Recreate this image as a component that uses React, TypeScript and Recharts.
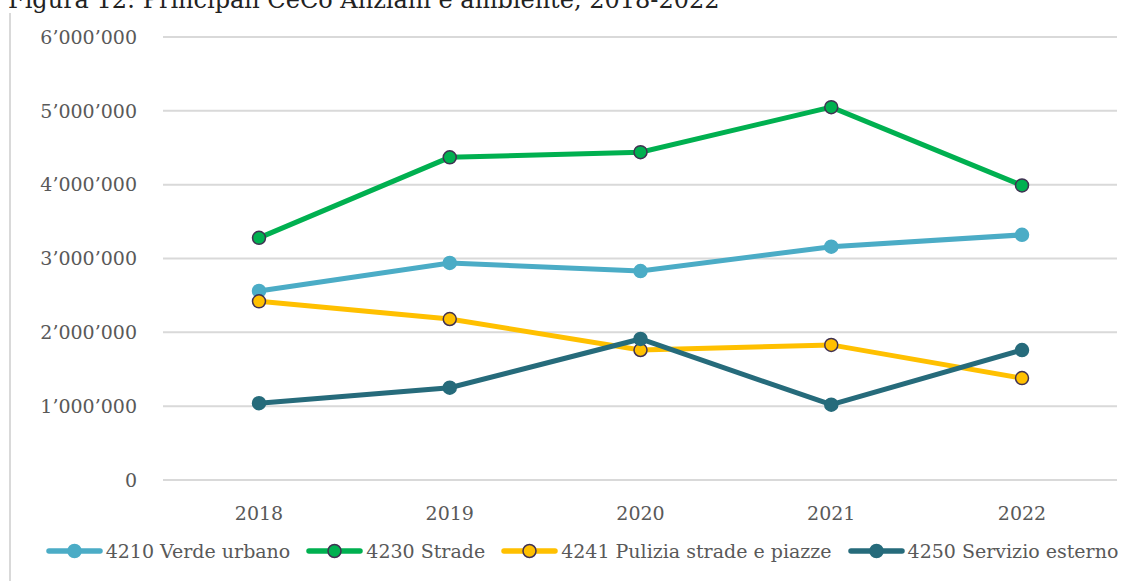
import { LineChart, Line, XAxis, YAxis, CartesianGrid } from 'recharts';

// Anni e valori (CHF)
const anni = ['2018', '2019', '2020', '2021', '2022'];
const verdeUrbano = [2560000, 2940000, 2830000, 3160000, 3320000];
const strade = [3280000, 4370000, 4440000, 5050000, 3990000];
const puliziaStrade = [2420000, 2180000, 1760000, 1830000, 1380000];
const servizioEsterno = [1040000, 1250000, 1910000, 1020000, 1760000];
const yTicks = [0, 1000000, 2000000, 3000000, 4000000, 5000000, 6000000];

const serie = [
  { key: 'verde', nome: '4210 Verde urbano', colore: '#4BACC6', bordo: '#4BACC6' },
  { key: 'strade', nome: '4230 Strade', colore: '#00B050', bordo: '#403152' },
  { key: 'pulizia', nome: '4241 Pulizia strade e piazze', colore: '#FFC000', bordo: '#403152' },
  { key: 'servizio', nome: '4250 Servizio esterno', colore: '#266B7B', bordo: '#266B7B' },
];

const dati = anni.map((anno, i) => ({
  anno,
  verde: verdeUrbano[i],
  strade: strade[i],
  pulizia: puliziaStrade[i],
  servizio: servizioEsterno[i],
}));

const font = '"DejaVu Serif", serif';
const grigio = '#595959';

// 6000000 -> 6’000’000
const formatta = (v: number) => (v === 0 ? '0' : String(v).replace(/\B(?=(\d{3})+(?!\d))/g, '\u2019'));

function Legenda() {
  return (
    <div
      style={{
        position: 'absolute',
        top: 537,
        left: 0,
        width: 1134,
        display: 'flex',
        justifyContent: 'center',
        alignItems: 'center',
        gap: 16,
        fontFamily: font,
        fontSize: 19,
        color: grigio,
        paddingLeft: 30,
        boxSizing: 'border-box',
      }}
    >
      {serie.map((s) => (
        <div key={s.key} style={{ display: 'flex', alignItems: 'center', gap: 3 }}>
          <svg width={57} height={28}>
            <line x1={3} y1={14} x2={54} y2={14} stroke={s.colore} strokeWidth={5.5} strokeLinecap="round" />
            <circle cx={28.5} cy={14} r={6.5} fill={s.colore} stroke={s.bordo} strokeWidth={1.5} />
          </svg>
          <span>{s.nome}</span>
        </div>
      ))}
    </div>
  );
}

export default function App() {
  return (
    <div style={{ position: 'absolute', left: 0, top: 0, width: 1134, height: 581, background: '#fff', overflow: 'hidden' }}>
      <svg width={1134} height={20} style={{ position: 'absolute', left: 0, top: 0 }}>
        <text x={8} y={8} fontFamily={font} fontSize={24} fill="#222">
          Figura 12: Principali CeCo Anziani e ambiente, 2018-2022
        </text>
      </svg>
      <div style={{ position: 'absolute', left: 9, top: 13, width: 2, height: 568, background: '#d9d9d9' }} />
      <LineChart width={1134} height={581} data={dati} margin={{ top: 37, right: 17, left: 13, bottom: 61 }}>
        <CartesianGrid vertical={false} stroke="#d9d9d9" strokeWidth={2} />
        <XAxis
          dataKey="anno"
          axisLine={false}
          tickLine={false}
          height={40}
          padding={{ left: 96, right: 95 }}
          tickMargin={21}
          tick={{ fontFamily: font, fontSize: 19, fill: grigio }}
        />
        <YAxis
          width={150}
          domain={[0, 6000000]}
          ticks={yTicks}
          axisLine={false}
          tickLine={false}
          tickMargin={20}
          tickFormatter={formatta}
          tick={{ fontFamily: font, fontSize: 19, fill: grigio }}
        />
        {serie.map((s) => (
          <Line
            key={s.key}
            dataKey={s.key}
            name={s.nome}
            stroke={s.colore}
            strokeWidth={5}
            dot={{ r: 6.5, fill: s.colore, stroke: s.bordo, strokeWidth: 1.5 }}
            activeDot={false}
            isAnimationActive={false}
          />
        ))}
      </LineChart>
      <Legenda />
    </div>
  );
}
